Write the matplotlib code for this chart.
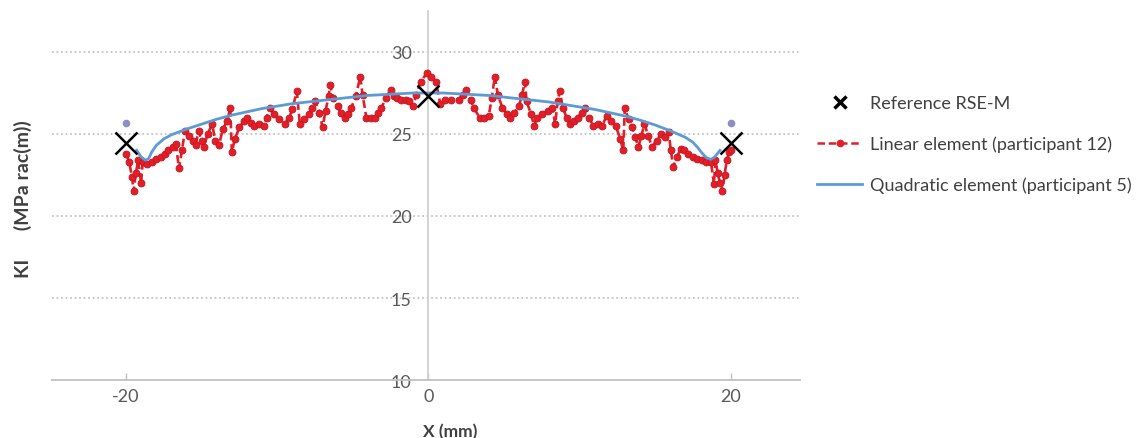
import matplotlib
matplotlib.use("Agg")
import matplotlib.pyplot as plt
from matplotlib.lines import Line2D

plt.rcParams["font.family"] = ["Lato", "DejaVu Sans"]
plt.rcParams["axes.unicode_minus"] = False

# Reference RSE-M
x_ref = [-20, 0, 20]
k_ref = [24.45, 27.3, 24.45]

# end values (small purple markers above the reference points)
x_end = [-20, 20]
k_end = [25.7, 25.7]

# Linear element (participant 12)
x_lin = [
    -20.0, -19.8, -19.6, -19.5, -19.35, -19.2, -19.0, -18.9, -18.6, -18.3,
    -18.0, -17.7, -17.4, -17.2, -16.9, -16.7, -16.5, -16.3, -16.1, -15.8,
    -15.6, -15.4, -15.2, -15.0, -14.85, -14.6, -14.3, -14.1, -13.85, -13.6,
    -13.3, -13.1, -13.0, -12.8, -12.5, -12.2, -12.0, -11.7, -11.5, -11.2,
    -10.9, -10.7, -10.5, -10.2, -9.9, -9.5, -9.2, -9.0, -8.7, -8.5,
    -8.2, -7.9, -7.7, -7.5, -7.2, -7.0, -6.8, -6.6, -6.5, -6.3,
    -6.0, -5.8, -5.5, -5.3, -5.1, -4.8, -4.5, -4.35, -4.1, -3.8,
    -3.5, -3.3, -3.1, -2.8, -2.5, -2.3, -2.1, -1.8, -1.5, -1.25,
    -1.0, -0.8, -0.5, -0.1, 0.2, 0.5, 0.8, 1.1, 1.5, 2.0,
    2.3, 2.5, 2.8, 3.0, 3.4, 3.7, 4.0, 4.2, 4.4, 4.6,
    4.9, 5.2, 5.4, 5.7, 6.0, 6.2, 6.4, 6.5, 6.8, 7.0,
    7.2, 7.5, 7.9, 8.2, 8.4, 8.55, 8.7, 8.9, 9.15, 9.4,
    9.65, 9.9, 10.15, 10.4, 10.65, 10.9, 11.2, 11.5, 11.8, 12.1,
    12.4, 12.7, 12.9, 13.0, 13.25, 13.5, 13.7, 13.9, 14.1, 14.3,
    14.55, 14.8, 15.1, 15.4, 15.65, 15.9, 16.05, 16.2, 16.45, 16.7,
    16.95, 17.2, 17.5, 17.8, 18.1, 18.4, 18.7, 18.9, 19.0, 19.15,
    19.3, 19.45, 19.6, 19.75, 19.9, 20.0,
]
k_lin = [
    23.8, 23.3, 22.4, 21.5, 22.6, 23.4, 22.0, 23.3, 23.2, 23.3,
    23.5, 23.6, 23.8, 24.0, 24.2, 24.4, 22.9, 24.0, 25.2, 24.9,
    24.6, 24.3, 25.2, 24.6, 24.2, 25.0, 25.6, 24.6, 24.3, 25.3,
    25.8, 26.6, 23.9, 24.7, 25.4, 25.8, 26.0, 25.7, 25.5, 25.6,
    25.5, 26.0, 26.6, 26.2, 25.9, 25.6, 26.0, 26.5, 27.6, 25.6,
    25.9, 26.2, 26.6, 27.0, 26.3, 25.4, 26.4, 27.3, 28.0, 27.2,
    26.7, 26.3, 26.0, 26.2, 26.6, 27.3, 28.5, 27.4, 26.0, 26.0,
    26.0, 26.3, 26.6, 27.2, 27.7, 27.3, 27.2, 27.1, 27.1, 27.0,
    26.7, 27.4, 28.2, 28.7, 28.5, 28.2, 26.8, 27.1, 27.1, 27.1,
    27.4, 27.7, 27.1, 26.6, 26.0, 26.0, 26.1, 27.2, 28.5, 27.4,
    26.6, 26.2, 26.0, 26.3, 26.7, 27.4, 28.2, 27.0, 26.2, 25.5,
    26.0, 26.2, 26.4, 26.6, 25.6, 27.0, 27.6, 26.6, 26.0, 25.6,
    25.8, 26.0, 26.3, 26.6, 26.0, 25.5, 25.6, 25.5, 26.1, 25.8,
    25.5, 24.7, 24.0, 26.6, 25.9, 25.4, 24.8, 24.2, 24.9, 25.6,
    24.9, 24.2, 24.6, 25.0, 24.8, 25.1, 24.0, 23.0, 23.6, 24.1,
    24.0, 23.8, 23.6, 23.5, 23.4, 23.3, 23.3, 21.95, 23.4, 22.6,
    22.0, 21.5, 22.5, 23.4, 23.9, 24.0,
]

# Quadratic element (participant 5)
x_quad = [
    -19.3, -19.0, -18.7, -18.5, -18.3, -18.0, -17.5, -17.0, -16.0, -15.0,
    -14.0, -13.0, -12.0, -11.0, -10.0, -9.0, -8.0, -7.0, -6.0, -5.0,
    -4.0, -3.0, -2.0, -1.0, 0.0, 1.0, 2.0, 3.0, 4.0, 5.0,
    6.0, 7.0, 8.0, 9.0, 10.0, 11.0, 12.0, 13.0, 14.0, 15.0,
    16.0, 17.0, 17.5, 17.8, 18.1, 18.4, 18.7, 18.95, 19.3,
]
k_quad = [
    24.0, 23.6, 23.4, 23.5, 23.9, 24.3, 24.7, 24.95, 25.3, 25.6,
    25.9, 26.15, 26.35, 26.55, 26.7, 26.85, 26.95, 27.05, 27.15, 27.25,
    27.35, 27.4, 27.45, 27.5, 27.5, 27.5, 27.45, 27.4, 27.35, 27.25,
    27.15, 27.05, 26.95, 26.8, 26.65, 26.5, 26.3, 26.1, 25.85, 25.55,
    25.2, 24.8, 24.5, 24.2, 23.85, 23.55, 23.45, 23.6, 24.0,
]

red = "#e01f29"
blue = "#5b9bd5"

fig = plt.figure(figsize=(11.37, 4.39), dpi=100)
ax = fig.add_axes([0.0457, 0.1321, 0.658, 0.8406])

grid_c = "#c4c4c4"
for yv in [15, 20, 25, 30]:
    ax.axhline(yv, color=grid_c, linestyle=(0, (1, 1.5)), linewidth=1.3, zorder=1)

ax.plot(x_lin, k_lin, color=red, linestyle=(0, (3, 1.5)), linewidth=1.9,
        marker="o", markersize=5, markeredgecolor="#c8141e",
        markeredgewidth=0.6, zorder=3)
ax.plot(x_quad, k_quad, color=blue, linewidth=2.0, zorder=4)
ax.plot(x_end, k_end, linestyle="none", marker="o", markersize=4.5,
        color="#8e8ec4", zorder=4)
ax.plot(x_ref, k_ref, linestyle="none", marker="x", markersize=16,
        markeredgewidth=1.8, color="black", zorder=5)

ax.set_xlim(-24.9, 24.6)
ax.set_ylim(10, 32.5)

for s in ["top", "right"]:
    ax.spines[s].set_visible(False)
ax.spines["left"].set_position(("data", 0))
ax.spines["left"].set_color("#d0d0d0")
ax.spines["left"].set_linewidth(1.3)
ax.spines["bottom"].set_color("#c0c0c0")
ax.spines["bottom"].set_linewidth(1.3)

ax.set_yticks([10, 15, 20, 25, 30])
ax.set_xticks([-20, 0, 20])
ax.tick_params(axis="y", length=0, pad=12, labelsize=13, labelcolor="#595959")
ax.tick_params(axis="x", direction="in", length=5, width=1, color="#c0c0c0",
               pad=6, labelsize=13, labelcolor="#595959")

fig.text(450 / 1137, 1 - 432 / 439, "X (mm)", ha="center", va="center",
         fontsize=12.5, fontweight="bold", color="#404040")
fig.text(23 / 1137, 1 - 199 / 439, "KI      (MPa rac(m))", ha="center", va="center",
         rotation=90, fontsize=14, fontweight="bold", color="#404040")

handles = [
    Line2D([], [], linestyle="none", marker="x", markersize=9,
           markeredgewidth=2.5, color="black"),
    Line2D([], [], color=red, linestyle=(0, (3, 1.5)), linewidth=1.8,
           marker="o", markersize=4.5, markevery=[1]),
    Line2D([], [], color=blue, linewidth=2.0),
]
labels = ["Reference RSE-M", "Linear element (participant 12)",
          "Quadratic element (participant 5)"]
fig.legend(handles, labels, loc="upper left",
           bbox_to_anchor=(801 / 1137, 1 - 80 / 439), frameon=False,
           fontsize=13, labelcolor="#404040", labelspacing=1.36,
           handlelength=2.5, handletextpad=0.4)

fig.savefig("out.png", dpi=100)
